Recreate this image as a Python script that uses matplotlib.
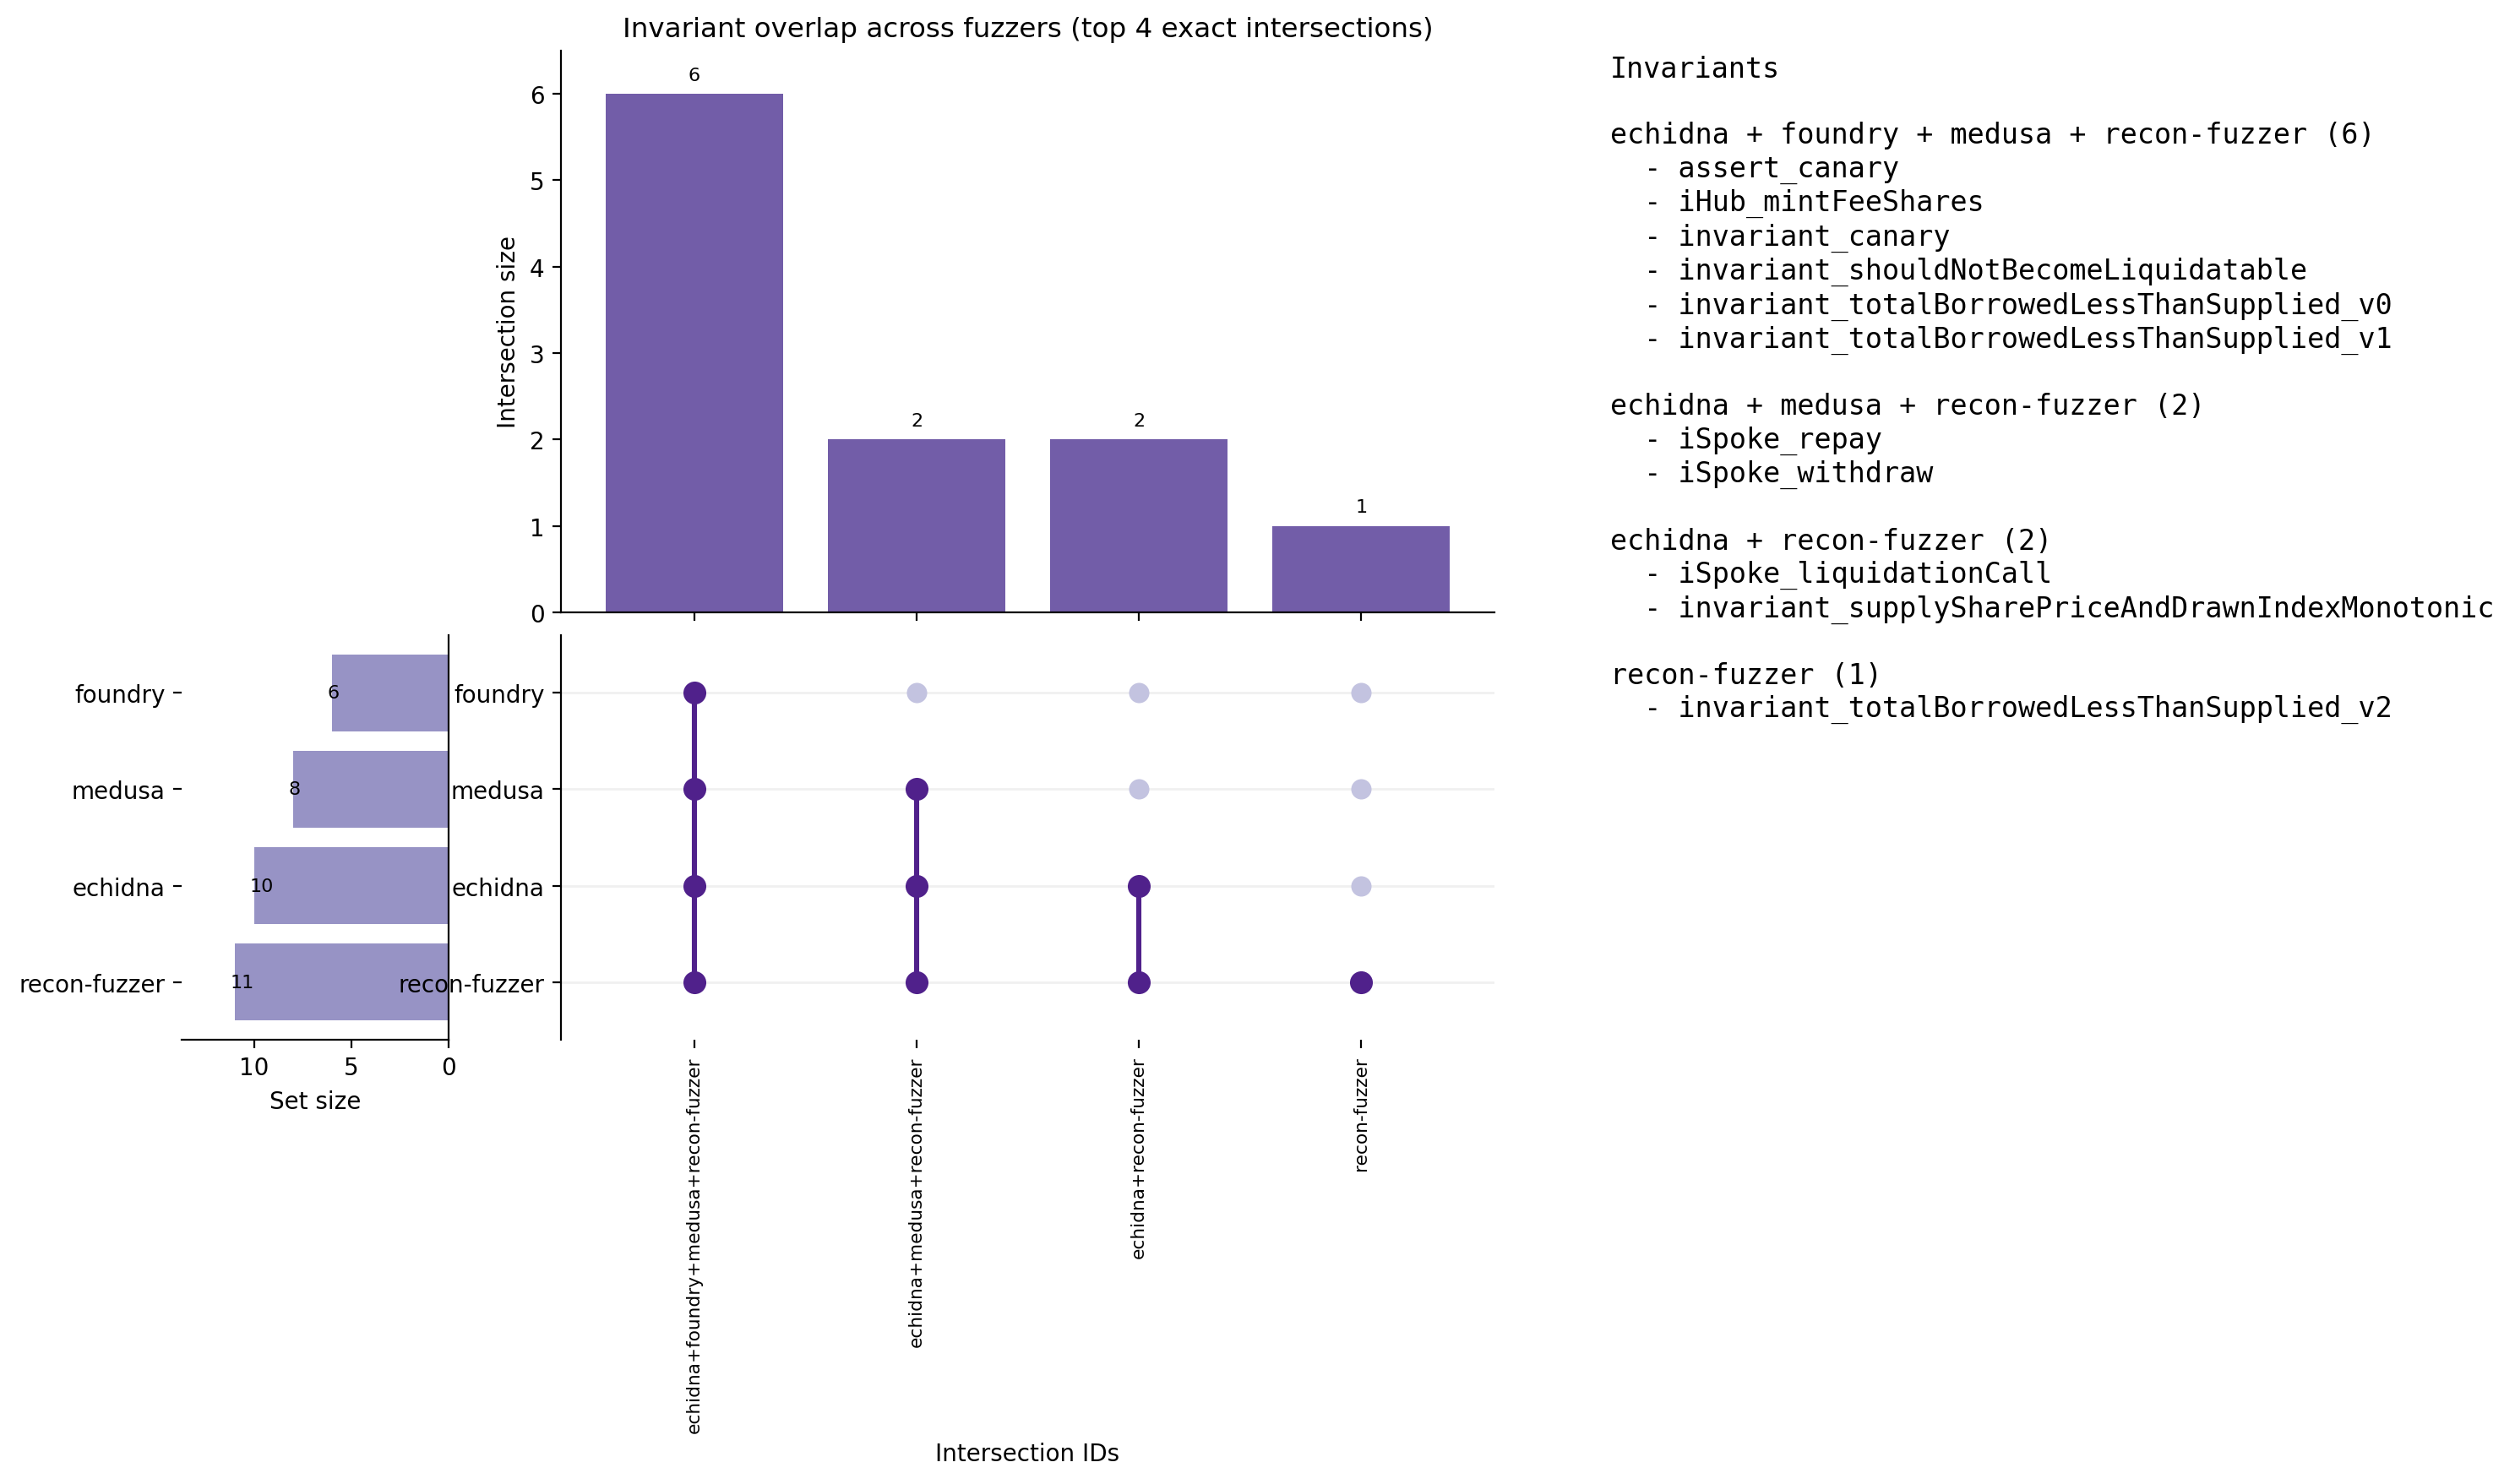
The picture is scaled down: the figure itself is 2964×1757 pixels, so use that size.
import matplotlib.pyplot as plt

# fuzzers, top row first
fuzzers = ["foundry", "medusa", "echidna", "recon-fuzzer"]
set_sizes = [6, 8, 10, 11]

# exact intersections, in plotted order
intersections = [
    "echidna+foundry+medusa+recon-fuzzer",
    "echidna+medusa+recon-fuzzer",
    "echidna+recon-fuzzer",
    "recon-fuzzer",
]
inter_sizes = [6, 2, 2, 1]

invariants = [
    ["assert_canary", "iHub_mintFeeShares", "invariant_canary",
     "invariant_shouldNotBecomeLiquidatable",
     "invariant_totalBorrowedLessThanSupplied_v0",
     "invariant_totalBorrowedLessThanSupplied_v1"],
    ["iSpoke_repay", "iSpoke_withdraw"],
    ["iSpoke_liquidationCall", "invariant_supplySharePriceAndDrawnIndexMonotonic"],
    ["invariant_totalBorrowedLessThanSupplied_v2"],
]

bar_color = "#725da8"
set_color = "#9793c5"
dot_on = "#50218b"
dot_off = "#c3c3e0"

fig = plt.figure(figsize=(14.82, 8.79), dpi=200)
W, H = 2964, 1758

def box(x0, y0, x1, y1):
    return [x0 / W, 1 - y1 / H, (x1 - x0) / W, (y1 - y0) / H]

ax_bar = fig.add_axes(box(664, 61, 1769, 726))
ax_set = fig.add_axes(box(215, 753, 531, 1232))
ax_mat = fig.add_axes(box(664, 753, 1769, 1232), sharex=ax_bar)
ax_mat.set_zorder(3)
ax_mat.patch.set_visible(False)

xs = list(range(len(intersections)))
ys = list(range(len(fuzzers)))

# intersection size bars
ax_bar.bar(xs, inter_sizes, width=0.8, color=bar_color)
for x, v in zip(xs, inter_sizes):
    ax_bar.text(x, v + 0.12, str(v), ha="center", va="bottom", fontsize=8)
ax_bar.set_ylim(0, 6.5)
ax_bar.set_xlim(-0.6, len(xs) - 0.4)
ax_bar.set_ylabel("Intersection size", fontsize=10)
ax_bar.set_title("Invariant overlap across fuzzers (top 4 exact intersections)", fontsize=11.7)
ax_bar.spines["top"].set_visible(False)
ax_bar.spines["right"].set_visible(False)
ax_bar.tick_params(axis="x", labelbottom=False)

# matrix
for y in ys:
    ax_mat.axhline(y, color="#f0f0f0", lw=1, zorder=0)
for x, name in zip(xs, intersections):
    parts = name.split("+")
    on = [fuzzers.index(p) for p in parts]
    off = [y for y in ys if y not in on]
    ax_mat.scatter([x] * len(off), off, s=75, color=dot_off, zorder=2, linewidths=0)
    if len(on) > 1:
        ax_mat.plot([x, x], [min(on), max(on)], color=dot_on, lw=2.2, zorder=2)
    ax_mat.scatter([x] * len(on), on, s=95, color=dot_on, zorder=3, linewidths=0)
ax_mat.set_ylim(len(fuzzers) - 0.4, -0.6)
ax_mat.set_yticks(ys)
ax_mat.set_yticklabels(fuzzers, fontsize=10)
ax_mat.set_xticks(xs)
ax_mat.set_xticklabels(intersections, rotation=90, fontsize=7.8)
ax_mat.tick_params(axis="x", labelbottom=True)
ax_mat.set_xlabel("Intersection IDs", fontsize=10)
for s in ["top", "right", "bottom"]:
    ax_mat.spines[s].set_visible(False)

# set sizes
ax_set.barh(ys, set_sizes, height=0.8, color=set_color)
for y, v in zip(ys, set_sizes):
    ax_set.text(v + 0.25, y, str(v), ha="left", va="center", fontsize=8)
ax_set.set_xlim(max(set_sizes) * 1.25, 0)
ax_set.set_ylim(len(fuzzers) - 0.4, -0.6)
ax_set.set_yticks(ys)
ax_set.set_yticklabels(fuzzers, fontsize=10)
ax_set.set_xticks([10, 5, 0])
ax_set.set_xlabel("Set size", fontsize=10)
ax_set.spines["top"].set_visible(False)
ax_set.spines["left"].set_visible(False)
ax_set.tick_params(axis="x", labelsize=10)

# invariant listing
lines = ["Invariants", ""]
for name, items in zip(intersections, invariants):
    lines.append(" + ".join(name.split("+")) + f" ({len(items)})")
    lines += [f"  - {it}" for it in items]
    lines.append("")
fig.text(1906 / W, 1 - 66 / H, "\n".join(lines[:-1]), ha="left", va="top",
         family="monospace", fontsize=12, linespacing=1.24)

fig.savefig("out.png", dpi=200)
